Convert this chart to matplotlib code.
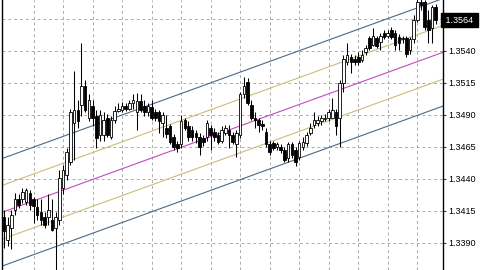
import numpy as np
import matplotlib.pyplot as plt

# OHLC, one entry per bar (left to right)
opens = [1.3410, 1.3392, 1.3402, 1.3416, 1.3424, 1.3424, 1.3422, 1.3429, 1.3424, 1.3418,
         1.3414, 1.3410, 1.3410, 1.3408, 1.3402, 1.3408, 1.3433, 1.3443, 1.3453, 1.3484,
         1.3494, 1.3498, 1.3513, 1.3488, 1.3497, 1.3489, 1.3474, 1.3474, 1.3488, 1.3473,
         1.3486, 1.3493, 1.3494, 1.3497, 1.3495, 1.3499, 1.3492, 1.3501, 1.3497, 1.3492,
         1.3496, 1.3492, 1.3492, 1.3484, 1.3480, 1.3481, 1.3473, 1.3467, 1.3467, 1.3486,
         1.3481, 1.3478, 1.3476, 1.3473, 1.3472, 1.3473, 1.3480, 1.3477, 1.3474, 1.3470,
         1.3476, 1.3478, 1.3474, 1.3467, 1.3474, 1.3506, 1.3516, 1.3498, 1.3488, 1.3486,
         1.3483, 1.3477, 1.3467, 1.3468, 1.3465, 1.3465, 1.3463, 1.3456, 1.3467, 1.3463,
         1.3457, 1.3465, 1.3468, 1.3476, 1.3482, 1.3484, 1.3485, 1.3487, 1.3488, 1.3488,
         1.3492, 1.3488, 1.3515, 1.3531, 1.3535, 1.3534, 1.3535, 1.3533, 1.3539, 1.3550,
         1.3545, 1.3550, 1.3547, 1.3554, 1.3552, 1.3556, 1.3554, 1.3551, 1.3549, 1.3550,
         1.3541, 1.3549, 1.3564, 1.3578, 1.3578, 1.3564, 1.3558, 1.3574]
highs = [1.3416, 1.3410, 1.3416, 1.3429, 1.3428, 1.3433, 1.3433, 1.3431, 1.3426, 1.3424,
         1.3424, 1.3414, 1.3428, 1.3424, 1.3414, 1.3447, 1.3451, 1.3464, 1.3495, 1.3524,
         1.3502, 1.3546, 1.3517, 1.3506, 1.3502, 1.3494, 1.3494, 1.3492, 1.3491, 1.3489,
         1.3497, 1.3499, 1.3500, 1.3499, 1.3502, 1.3506, 1.3507, 1.3506, 1.3502, 1.3499,
         1.3502, 1.3495, 1.3494, 1.3492, 1.3490, 1.3483, 1.3475, 1.3470, 1.3490, 1.3488,
         1.3485, 1.3481, 1.3478, 1.3476, 1.3474, 1.3486, 1.3482, 1.3480, 1.3477, 1.3481,
         1.3482, 1.3482, 1.3477, 1.3478, 1.3508, 1.3520, 1.3519, 1.3502, 1.3492, 1.3488,
         1.3486, 1.3480, 1.3470, 1.3470, 1.3469, 1.3467, 1.3465, 1.3469, 1.3469, 1.3465,
         1.3470, 1.3473, 1.3477, 1.3484, 1.3492, 1.3489, 1.3490, 1.3491, 1.3495, 1.3503,
         1.3495, 1.3517, 1.3537, 1.3546, 1.3538, 1.3537, 1.3539, 1.3541, 1.3545, 1.3552,
         1.3558, 1.3552, 1.3554, 1.3556, 1.3556, 1.3559, 1.3556, 1.3553, 1.3552, 1.3552,
         1.3551, 1.3568, 1.3584, 1.3584, 1.3580, 1.3572, 1.3576, 1.3577]
lows = [1.3386, 1.3388, 1.3385, 1.3412, 1.3417, 1.3421, 1.3420, 1.3416, 1.3406, 1.3408,
        1.3404, 1.3402, 1.3404, 1.3399, 1.3365, 1.3404, 1.3428, 1.3439, 1.3451, 1.3455,
        1.3480, 1.3489, 1.3492, 1.3485, 1.3481, 1.3464, 1.3470, 1.3470, 1.3473, 1.3471,
        1.3484, 1.3492, 1.3492, 1.3493, 1.3494, 1.3495, 1.3478, 1.3492, 1.3489, 1.3489,
        1.3486, 1.3485, 1.3476, 1.3473, 1.3472, 1.3467, 1.3463, 1.3461, 1.3464, 1.3478,
        1.3470, 1.3470, 1.3468, 1.3459, 1.3466, 1.3470, 1.3463, 1.3470, 1.3467, 1.3468,
        1.3474, 1.3464, 1.3467, 1.3457, 1.3472, 1.3503, 1.3498, 1.3486, 1.3480, 1.3477,
        1.3478, 1.3465, 1.3459, 1.3463, 1.3463, 1.3460, 1.3453, 1.3453, 1.3456, 1.3450,
        1.3455, 1.3463, 1.3466, 1.3474, 1.3480, 1.3481, 1.3482, 1.3485, 1.3485, 1.3488,
        1.3474, 1.3465, 1.3508, 1.3529, 1.3523, 1.3529, 1.3529, 1.3531, 1.3537, 1.3541,
        1.3544, 1.3542, 1.3541, 1.3549, 1.3550, 1.3549, 1.3541, 1.3541, 1.3546, 1.3535,
        1.3538, 1.3546, 1.3563, 1.3572, 1.3556, 1.3546, 1.3546, 1.3561]
closes = [1.3399, 1.3404, 1.3412, 1.3424, 1.3420, 1.3430, 1.3431, 1.3420, 1.3419, 1.3412,
          1.3408, 1.3404, 1.3416, 1.3400, 1.3410, 1.3441, 1.3447, 1.3461, 1.3492, 1.3494,
          1.3485, 1.3513, 1.3494, 1.3502, 1.3488, 1.3472, 1.3490, 1.3486, 1.3474, 1.3486,
          1.3493, 1.3495, 1.3497, 1.3495, 1.3499, 1.3502, 1.3501, 1.3494, 1.3492, 1.3497,
          1.3488, 1.3488, 1.3485, 1.3490, 1.3475, 1.3469, 1.3465, 1.3464, 1.3485, 1.3480,
          1.3473, 1.3473, 1.3473, 1.3465, 1.3469, 1.3484, 1.3474, 1.3473, 1.3469, 1.3478,
          1.3480, 1.3474, 1.3469, 1.3476, 1.3506, 1.3513, 1.3499, 1.3488, 1.3486, 1.3482,
          1.3481, 1.3467, 1.3461, 1.3464, 1.3467, 1.3463, 1.3455, 1.3467, 1.3459, 1.3453,
          1.3468, 1.3469, 1.3474, 1.3480, 1.3486, 1.3486, 1.3488, 1.3488, 1.3492, 1.3494,
          1.3481, 1.3515, 1.3534, 1.3537, 1.3531, 1.3531, 1.3531, 1.3537, 1.3542, 1.3542,
          1.3552, 1.3544, 1.3552, 1.3551, 1.3554, 1.3551, 1.3545, 1.3546, 1.3550, 1.3538,
          1.3549, 1.3564, 1.3578, 1.3576, 1.3559, 1.3556, 1.3574, 1.3564]

# regression channel: mid line at first/last bar, band offsets
channel_bars = [0, 117]
channel_mid = [1.34145, 1.35369]
inner_band = 0.0021
outer_band = 0.0042

price_ticks = [1.3390, 1.3415, 1.3440, 1.3465, 1.3490, 1.3515, 1.3540, 1.3565]
price_labels = ['1.3390', '1.3415', '1.3440', '1.3465', '1.3490', '1.3515', '1.3540', '']
last_price = '1.3564'

fig = plt.figure(figsize=(4.8, 2.7), dpi=100)
ax = fig.add_axes([2 / 480, 0, 441 / 480, 1])

x = np.arange(len(opens))
o = np.array(opens)
c = np.array(closes)

# grid first, below everything
ax.set_xlim(-0.54, 118.97)
ax.set_ylim(1.33689, 1.35798)
ax.set_xticks(np.arange(8, 119, 8))
ax.set_yticks(price_ticks)
ax.set_yticklabels(price_labels, fontsize=6.5, family='Liberation Sans')
ax.grid(True, color='#ababab', linestyle=(0, (3, 3)), linewidth=0.7)
ax.set_axisbelow(True)

# channel lines, extended over the whole window
slope = (channel_mid[1] - channel_mid[0]) / (channel_bars[1] - channel_bars[0])
xx = np.array(ax.get_xlim())
mid = channel_mid[0] + slope * (xx - channel_bars[0])
ax.plot(xx, mid, color='#c04cc0', lw=0.8, zorder=1)
for k, col in [(inner_band, '#cbbb7c'), (outer_band, '#4a6a8a')]:
    ax.plot(xx, mid + k, color=col, lw=0.8, zorder=1)
    ax.plot(xx, mid - k, color=col, lw=0.8, zorder=1)

# candles
ax.vlines(x, lows, highs, color='black', lw=0.75, zorder=2)
up = c >= o
body_bottom = np.minimum(o, c)
body_h = np.abs(c - o)
ax.bar(x[up], body_h[up], bottom=body_bottom[up], width=0.7,
       color='white', edgecolor='black', linewidth=0.6, zorder=3)
ax.bar(x[~up], body_h[~up], bottom=body_bottom[~up], width=0.7,
       color='black', edgecolor='black', linewidth=0.6, zorder=3)

# axes look: price scale on the right, no x labels
ax.yaxis.tick_right()
ax.tick_params(axis='y', length=2, width=0.6, pad=2, colors='black')
ax.tick_params(axis='x', length=0, labelbottom=False)
ax.spines['top'].set_visible(False)
ax.spines['bottom'].set_visible(False)
ax.spines['left'].set_linewidth(1.0)
ax.spines['right'].set_linewidth(1.0)

# current price tag
ax.text(1.0, float(last_price), ' ' + last_price + ' ', transform=ax.get_yaxis_transform(),
        va='center', ha='left', fontsize=6.5, family='Liberation Sans', color='white',
        bbox=dict(boxstyle='square,pad=0.25', fc='black', ec='black'), clip_on=False, zorder=5)

fig.savefig('out.png', dpi=100)
